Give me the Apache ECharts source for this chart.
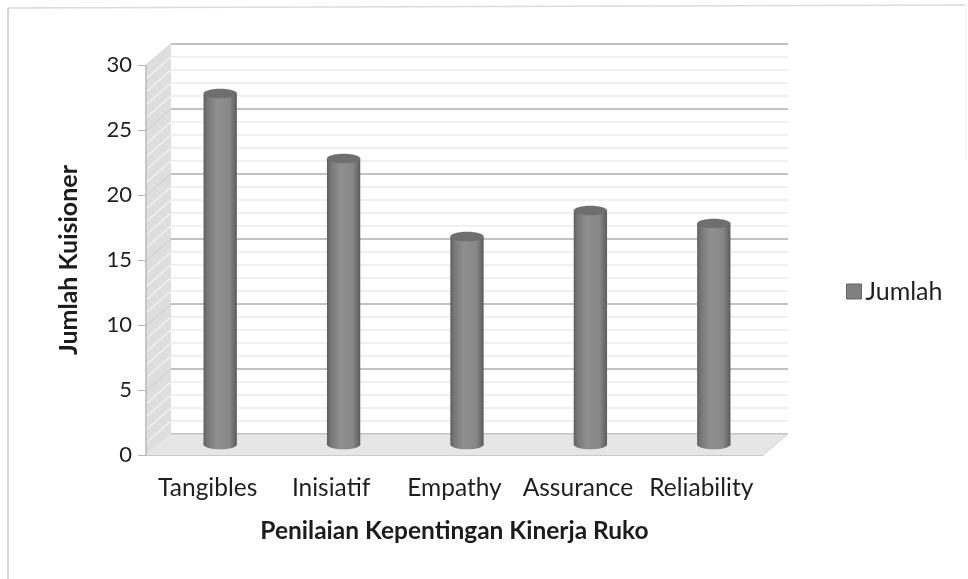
<!DOCTYPE html>
<html>
<head>
<meta charset="utf-8">
<style>html,body{margin:0;padding:0;background:#fff}#chart{width:968px;height:579px}</style>
<script src="https://cdn.jsdelivr.net/npm/echarts@6/dist/echarts.min.js"></script>
</head>
<body>
<div id="chart"></div>
<script>
const categories = ['Tangibles', 'Inisiatif', 'Empathy', 'Assurance', 'Reliability'];
const jumlah = [27, 22, 16, 18, 17];
const seriesName = 'Jumlah';
const yTitle = 'Jumlah Kuisioner';
const xTitle = 'Penilaian Kepentingan Kinerja Ruko';
const fontFamily = 'Lato, "Open Sans", sans-serif';

// Depth of the 3D box in pixels; the back wall, bars and front axes are the same scale shifted along it.
const depth = { dx: 25, dy: -21 };
const front = { left: 146, top: 65, width: 617, height: 390 };
const shifted = (k) => ({
  left: front.left + depth.dx * k,
  top: front.top + depth.dy * k,
  width: front.width,
  height: front.height
});

const yAxisBase = { type: 'value', min: 0, max: 30, interval: 5 };
const xAxisBase = { type: 'category', data: categories };

// Floor, left wall and its stripes, anchored to the front axes.
function renderBox(params, api) {
  const cs = params.coordSys;
  const x0 = cs.x, x1 = cs.x + cs.width;
  const y0 = api.coord([0, 0])[1], y30 = api.coord([0, 30])[1];
  const children = [
    { type: 'polygon', shape: { points: [[x0, y0], [x0 + depth.dx, y0 + depth.dy], [x1 + depth.dx, y0 + depth.dy], [x1, y0]] },
      style: { fill: '#e6e6e6' } },
    { type: 'polygon', shape: { points: [[x0, y30], [x0 + depth.dx, y30 + depth.dy], [x0 + depth.dx, y0 + depth.dy], [x0, y0]] },
      style: { fill: '#dedede' } },
    { type: 'line', shape: { x1: x0, y1: y30, x2: x0, y2: y0 }, style: { stroke: '#b9b9b9', lineWidth: 1.5 } },
    { type: 'line', shape: { x1: x0, y1: y30, x2: x0 + depth.dx, y2: y30 + depth.dy }, style: { stroke: '#cfcfcf', lineWidth: 1 } },
    { type: 'line', shape: { x1: x0 + depth.dx, y1: y0 + depth.dy, x2: x1 + depth.dx, y2: y0 + depth.dy }, style: { stroke: '#c4c4c4', lineWidth: 1 } },
    { type: 'line', shape: { x1: x1 + depth.dx, y1: y0 + depth.dy, x2: x1, y2: y0 }, style: { stroke: '#d2d2d2', lineWidth: 1 } }
  ];
  for (let v = 1; v < 30; v++) {
    const y = api.coord([0, v])[1];
    children.push({
      type: 'line',
      shape: { x1: x0 + 1, y1: y, x2: x0 + depth.dx, y2: y + depth.dy },
      style: { stroke: v % 5 === 0 ? '#cbcbcb' : '#f2f2f2', lineWidth: v % 5 === 0 ? 1 : 1.5 }
    });
  }
  return { type: 'group', children };
}

// One cylinder: bottom cap, shaded body and darker top cap.
function renderCylinder(params, api) {
  const base = api.coord([api.value(0), 0]);
  const top = api.coord([api.value(0), api.value(1)]);
  const rx = api.size([1, 0])[0] * 0.135;
  const ry = 4.8;
  const shade = new echarts.graphic.LinearGradient(0, 0, 1, 0, [
    { offset: 0, color: '#5f5f5f' },
    { offset: 0.12, color: '#787878' },
    { offset: 0.4, color: '#8f8f8f' },
    { offset: 0.78, color: '#878787' },
    { offset: 1, color: '#5c5c5c' }
  ]);
  return {
    type: 'group',
    children: [
      { type: 'ellipse', shape: { cx: base[0], cy: base[1], rx, ry }, style: { fill: shade } },
      { type: 'rect', shape: { x: base[0] - rx, y: top[1], width: rx * 2, height: base[1] - top[1] }, style: { fill: shade } },
      { type: 'ellipse', shape: { cx: top[0], cy: top[1], rx, ry }, style: { fill: '#6f6f6f' } }
    ]
  };
}

const chart = echarts.init(document.getElementById('chart'), null, { renderer: 'canvas' });
chart.setOption({
  animation: false,
  backgroundColor: '#ffffff',
  textStyle: { fontFamily },
  graphic: [
    { type: 'line', silent: true, z: -1, shape: { x1: 8, y1: 8, x2: 966, y2: 5 }, style: { stroke: '#dcdcdc', lineWidth: 1.5 } },
    { type: 'line', silent: true, z: -1, shape: { x1: 8, y1: 8, x2: 8, y2: 579 }, style: { stroke: '#c9c9c9', lineWidth: 1.5 } },
    { type: 'line', silent: true, z: -1, shape: { x1: 966, y1: 5, x2: 966, y2: 160 }, style: { stroke: '#f1f1f1', lineWidth: 1 } }
  ],
  legend: {
    data: [seriesName],
    left: 841, top: 274,
    itemWidth: 15, itemHeight: 15, itemGap: 2,
    icon: 'rect',
    textStyle: { fontSize: 25, color: '#1f1f1f', fontFamily, padding: [0, 0, 0, -1] },
    itemStyle: { color: '#808080', borderColor: '#666666', borderWidth: 1 }
  },
  grid: [front, shifted(1), shifted(0.5)],
  xAxis: [
    { ...xAxisBase, gridIndex: 0,
      name: xTitle, nameLocation: 'middle', nameGap: 64,
      nameTextStyle: { fontSize: 24.5, fontWeight: 'bold', color: '#1c1c1c', fontFamily },
      axisLine: { show: true, lineStyle: { color: '#b9b9b9', width: 1.5 } },
      axisTick: { show: false },
      axisLabel: { fontSize: 24.5, color: '#1f1f1f', margin: 21, interval: 0 } },
    { ...xAxisBase, gridIndex: 1, show: false },
    { ...xAxisBase, gridIndex: 2, show: false }
  ],
  yAxis: [
    { ...yAxisBase, gridIndex: 0,
      name: yTitle, nameLocation: 'middle', nameGap: 65, nameRotate: 90,
      nameTextStyle: { fontSize: 25, fontWeight: 'bold', color: '#1c1c1c', fontFamily },
      axisLine: { show: false },
      axisTick: { show: true, length: 8, lineStyle: { color: '#b9b9b9' } },
      axisLabel: { fontSize: 22, color: '#1f1f1f', margin: 14 },
      splitLine: { show: false } },
    { ...yAxisBase, gridIndex: 1, axisLabel: { show: false }, axisTick: { show: false }, axisLine: { show: false },
      splitLine: { show: true, lineStyle: { color: '#aeaeae', width: 1.5 } },
      minorTick: { show: false, splitNumber: 5 },
      minorSplitLine: { show: true, lineStyle: { color: '#ebebeb', width: 1.5 } } },
    { ...yAxisBase, gridIndex: 2, show: false, splitLine: { show: false } }
  ],
  series: [
    { type: 'custom', silent: true, xAxisIndex: 0, yAxisIndex: 0, z: 1,
      data: [[0, 0]], renderItem: renderBox, legendHoverLink: false, tooltip: { show: false } },
    { name: seriesName, type: 'custom', xAxisIndex: 2, yAxisIndex: 2, z: 3,
      itemStyle: { color: '#808080' },
      data: jumlah.map((v, i) => [i, v]), encode: { x: 0, y: 1 }, renderItem: renderCylinder }
  ]
});
</script>
</body>
</html>
